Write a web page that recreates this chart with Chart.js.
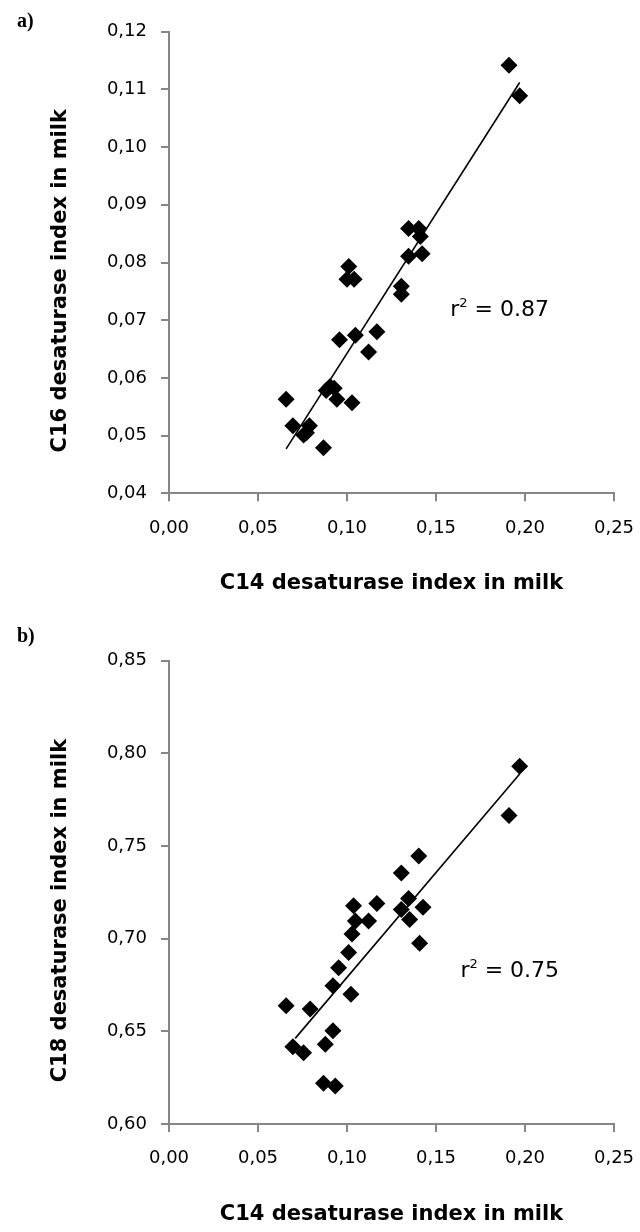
<!DOCTYPE html>
<html>
<head>
<meta charset="utf-8">
<script src="https://cdn.jsdelivr.net/npm/chart.js@4.4.1/dist/chart.umd.min.js"></script>
<style>
  body { margin: 0; background: #fff; }
  #wrap { position: relative; width: 640px; height: 1232px; }
  canvas { position: absolute; left: 0; }
  .tag { position: absolute; font: bold 20px "Liberation Serif"; line-height: 20px; color: #000; }
</style>
</head>
<body>
<div id="wrap">
  <canvas id="panelA" width="640" height="616" style="top:0"></canvas>
  <canvas id="panelB" width="640" height="616" style="top:616px"></canvas>
  <div class="tag" style="left:17px;top:10px">a)</div>
  <div class="tag" style="left:17px;top:625px">b)</div>
</div>
<script>
// panel a: C14 vs C16 desaturase index
const c14A = [0.191, 0.197, 0.1346, 0.1403, 0.1412, 0.1346, 0.1422, 0.1305, 0.1305,
  0.101, 0.100, 0.104, 0.0958, 0.1047, 0.1168, 0.1121, 0.0883, 0.0928, 0.0943, 0.1028,
  0.0658, 0.0696, 0.0789, 0.0756, 0.0868, 0.0905, 0.0772];
const c16A = [0.1142, 0.1089, 0.0859, 0.0859, 0.0845, 0.0811, 0.0815, 0.0759, 0.0745,
  0.0793, 0.0771, 0.0771, 0.0666, 0.0674, 0.0680, 0.0645, 0.0578, 0.0582, 0.0563, 0.0557,
  0.0563, 0.0517, 0.0517, 0.0501, 0.0479, 0.0585, 0.0505];
const fitAx = [0.0658, 0.197];
const fitAy = [0.0477, 0.1112];

// panel b: C14 vs C18 desaturase index
const c14B = [0.197, 0.191, 0.1403, 0.1305, 0.1346, 0.1305, 0.1352, 0.1427, 0.1408,
  0.1168, 0.1121, 0.1037, 0.1047, 0.1028, 0.1009, 0.0953, 0.0921, 0.1022, 0.0658,
  0.0793, 0.0696, 0.0756, 0.0921, 0.0878, 0.0868, 0.0934];
const c18B = [0.793, 0.7665, 0.7446, 0.7355, 0.7217, 0.7158, 0.7104, 0.7169, 0.6975,
  0.7190, 0.7095, 0.7178, 0.7095, 0.7025, 0.6926, 0.6843, 0.6746, 0.6700, 0.6638,
  0.6620, 0.6417, 0.6385, 0.6503, 0.6430, 0.6220, 0.6205];
const fitBx = [0.0709, 0.197];
const fitBy = [0.6462, 0.7889];

const xRange = [0, 0.25, 0.05];
const yRangeA = [0.04, 0.12, 0.01];
const yRangeB = [0.60, 0.85, 0.05];
const r2A = '0.87';
const r2B = '0.75';

const AXIS = '#868686';
const comma = v => v.toFixed(2).replace('.', ',');
const pairs = (xs, ys) => xs.map((x, i) => ({ x, y: ys[i] }));

// r² note drawn in data coordinates
const r2Note = {
  id: 'r2Note',
  afterDatasetsDraw(chart, args, opts) {
    const { ctx, scales } = chart;
    const px = scales.x.getPixelForValue(opts.x);
    const py = scales.y.getPixelForValue(opts.y);
    ctx.save();
    ctx.fillStyle = '#000';
    ctx.textBaseline = 'alphabetic';
    ctx.textAlign = 'left';
    ctx.font = '22px "DejaVu Sans"';
    ctx.fillText('r', px, py);
    let w = ctx.measureText('r').width;
    ctx.font = '13px "DejaVu Sans"';
    ctx.fillText('2', px + w, py - 9);
    w += ctx.measureText('2').width;
    ctx.font = '22px "DejaVu Sans"';
    ctx.fillText(' = ' + opts.text, px + w, py);
    ctx.restore();
  }
};

function makePanel(id, xs, ys, fx, fy, yRange, yTitle, pad, note) {
  return new Chart(document.getElementById(id), {
    type: 'scatter',
    data: {
      datasets: [
        {
          data: pairs(xs, ys),
          pointStyle: 'rectRot',
          pointRadius: 8.5,
          backgroundColor: '#000',
          borderWidth: 0,
          order: 2
        },
        {
          type: 'line',
          data: pairs(fx, fy),
          showLine: true,
          pointRadius: 0,
          borderColor: '#000',
          borderWidth: 1.6,
          fill: false,
          order: 1
        }
      ]
    },
    options: {
      responsive: false,
      animation: false,
      devicePixelRatio: 1,
      layout: { padding: { top: pad.top, right: 0, left: 0, bottom: 0 } },
      plugins: { legend: { display: false }, tooltip: { enabled: false }, r2Note: note },
      scales: {
        x: {
          type: 'linear',
          min: xRange[0], max: xRange[1],
          afterFit: s => { s.height = pad.xh; s.paddingLeft = 0; s.paddingRight = 26; },
          ticks: { stepSize: xRange[2], callback: comma, color: '#000', padding: 16,
                   font: { family: 'DejaVu Sans', size: 18 } },
          grid: { drawOnChartArea: false, drawTicks: true, tickLength: 8, color: AXIS, lineWidth: 2 },
          border: { color: AXIS, width: 2 },
          title: { display: true, text: 'C14 desaturase index in milk', color: '#000',
                   font: { family: 'DejaVu Sans', size: 21, weight: 'bold' },
                   padding: { top: 0, bottom: pad.xt } }
        },
        y: {
          type: 'linear',
          min: yRange[0], max: yRange[1],
          afterFit: s => { s.width = 169; },
          ticks: { stepSize: yRange[2], callback: comma, color: '#000', padding: 14,
                   font: { family: 'DejaVu Sans', size: 18 } },
          grid: { drawOnChartArea: false, drawTicks: true, tickLength: 8, color: AXIS, lineWidth: 2 },
          border: { color: AXIS, width: 2 },
          // trailing spaces nudge the centred title down a little, like the original
          title: { display: true, text: yTitle + '     ', color: '#000',
                   font: { family: 'DejaVu Sans', size: 21, weight: 'bold' },
                   padding: { top: 48, bottom: 0 } }
        }
      }
    },
    plugins: [r2Note]
  });
}

makePanel('panelA', c14A, c16A, fitAx, fitAy, yRangeA, 'C16 desaturase index in milk',
  { top: 31.7, xh: 122.7, xt: 20 }, { x: 0.158, y: 0.0707, text: r2A });
makePanel('panelB', c14B, c18B, fitBx, fitBy, yRangeB, 'C18 desaturase index in milk',
  { top: 44.7, xh: 108, xt: 4.4 }, { x: 0.1637, y: 0.6794, text: r2B });
</script>
</body>
</html>
